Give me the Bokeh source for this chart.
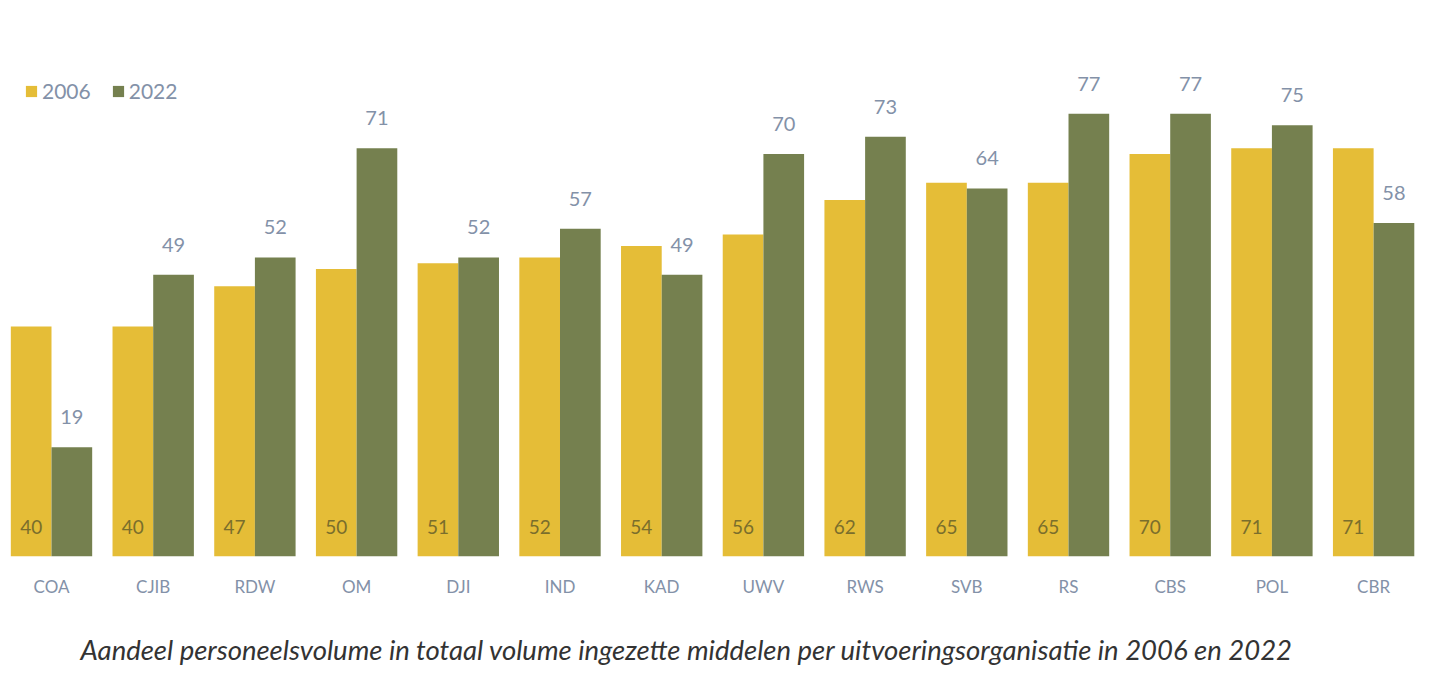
from bokeh.plotting import figure
from bokeh.models import ColumnDataSource, Range1d, FixedTicker, Legend, LegendItem, Title
from bokeh.core.properties import value
from bokeh.embed import file_html
from bokeh.resources import INLINE

categories = ["COA", "CJIB", "RDW", "OM", "DJI", "IND", "KAD", "UWV", "RWS", "SVB", "RS", "CBS", "POL", "CBR"]
v2006 = [40, 40, 47, 50, 51, 52, 54, 56, 62, 65, 65, 70, 71, 71]
v2022 = [19, 49, 52, 71, 52, 57, 49, 70, 73, 64, 77, 77, 75, 58]
series = ["2006", "2022"]
caption = "Aandeel personeelsvolume in totaal volume ingezette middelen per uitvoeringsorganisatie in 2006 en 2022"

YELLOW = "#E5BD37"
GREEN = "#75804F"
LABEL_GREY = "#8391A8"
DARK_LABEL = "#7A6E2C"
FONT = "Lato"

idx = list(range(len(categories)))
src = ColumnDataSource(dict(
    x06=[i - 0.2 for i in idx],
    x22=[i + 0.2 for i in idx],
    v06=v2006,
    v22=v2022,
    t06=[str(v) for v in v2006],
    t22=[str(v) for v in v2022],
    zero=[0] * len(idx),
))

p = figure(width=1432, height=696, output_backend="svg", toolbar_location=None,
           x_range=Range1d(-0.5015, 13.579), y_range=Range1d(0, 95.3),
           min_border_left=0, min_border_right=0, min_border_top=8, min_border_bottom=140)
p.outline_line_color = None
p.background_fill_color = "white"
p.border_fill_color = "white"
p.xgrid.visible = False
p.ygrid.visible = False
p.yaxis.visible = False

r06 = p.vbar(x="x06", top="v06", width=0.4, source=src, fill_color=YELLOW, line_color=None)
r22 = p.vbar(x="x22", top="v22", width=0.4, source=src, fill_color=GREEN, line_color=None)

p.text(x="x06", y="zero", text="t06", source=src, y_offset=-30,
       text_align="center", text_baseline="middle", text_font=value(FONT),
       text_font_size="19px", text_color=DARK_LABEL)
p.text(x="x22", y="v22", text="t22", source=src, y_offset=-30,
       text_align="center", text_baseline="middle", text_font=value(FONT),
       text_font_size="20px", text_color=LABEL_GREY)

xa = p.xaxis[0]
xa.ticker = FixedTicker(ticks=idx)
xa.major_label_overrides = {i: c for i, c in zip(idx, categories)}
xa.axis_line_color = None
xa.major_tick_line_color = None
xa.minor_tick_line_color = None
xa.major_label_standoff = 13
xa.major_label_text_font = FONT
xa.major_label_text_font_size = "17px"
xa.major_label_text_color = LABEL_GREY

legend = Legend(items=[LegendItem(label=series[0], renderers=[r06]),
                       LegendItem(label=series[1], renderers=[r22])],
                orientation="horizontal", location=(24, 453),
                glyph_width=14, glyph_height=14, label_standoff=4, spacing=20,
                padding=0, margin=0, border_line_color=None, background_fill_alpha=0,
                label_text_font=FONT, label_text_font_size="21px", label_text_color=LABEL_GREY)
p.add_layout(legend, "center")

cap = Title(text=caption, align="left", offset=80, text_font=FONT, text_font_style="italic",
            text_font_size="27.5px", text_color="#333333", standoff=62)
p.add_layout(cap, "below")

open("out.html", "w").write(file_html(p, INLINE))
